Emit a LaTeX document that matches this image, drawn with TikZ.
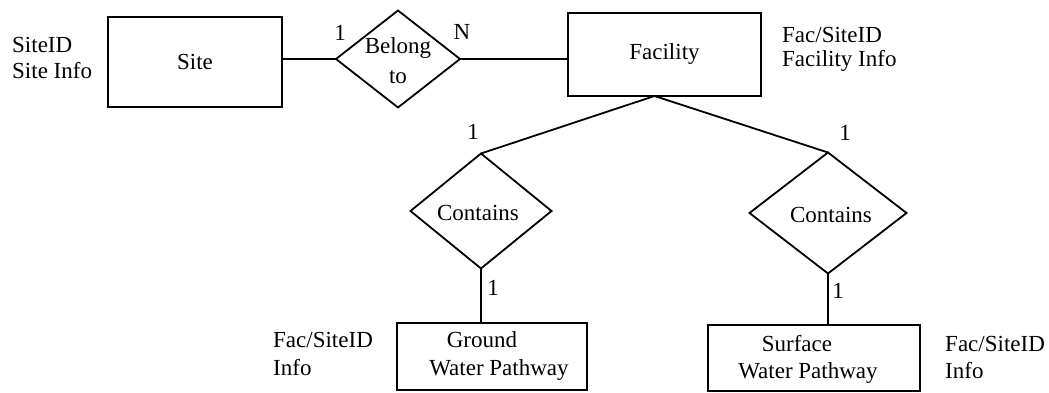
\documentclass[tikz,border=0pt]{standalone}
\usepackage{fontspec}
\setmainfont{Liberation Serif}
\usetikzlibrary{shapes.geometric,calc}
\begin{document}
\begin{tikzpicture}[x=1pt,y=-1pt,
  every node/.style={font=\fontsize{23}{26}\selectfont},
  entity/.style={draw, rectangle, line width=1.8pt, inner sep=0pt, outer sep=0pt},
  relation/.style={draw, diamond, line width=1.8pt, inner sep=0pt, outer sep=0pt},
  conn/.style={line width=1.8pt},
  txt/.style={anchor=base west, inner sep=0pt},
  ctxt/.style={anchor=base, inner sep=0pt},
  card/.style={inner sep=0pt}]
\path[use as bounding box] (0,0) rectangle (1049,393);
% entities and relationships
\node[entity, minimum width=174pt, minimum height=90pt] (site) at (195,62) {Site};
\node[relation, minimum width=124pt, minimum height=97pt] (belong) at (398,59) {};
\node[entity, minimum width=193pt, minimum height=83pt] (facility) at (664.5,54.5) {Facility};
\node[relation, minimum width=141pt, minimum height=115pt] (c1) at (481,211) {};
\node[relation, minimum width=157pt, minimum height=121pt] (c2) at (828,213) {};
\node[entity, minimum width=190pt, minimum height=67pt] (ground) at (492,356.5) {};
\node[entity, minimum width=212pt, minimum height=66pt] (surface) at (814,358) {};
% texts inside shapes
\node[align=center, inner sep=0pt, font=\fontsize{23}{30}\selectfont] (belongtxt) at ([yshift=-2pt]belong.center) {Belong\\to};
\node[inner sep=0pt] (c1txt) at ([xshift=-3pt,yshift=-2pt]c1.center) {Contains};
\node[inner sep=0pt] (c2txt) at ([xshift=3pt,yshift=-2pt]c2.center) {Contains};
\node[ctxt] (g1) at (482,347) {Ground};
\node[ctxt] (g2) at (499,375) {Water Pathway};
\node[ctxt] (s1) at (797,351) {Surface};
\node[ctxt] (s2) at (808,378) {Water Pathway};
% connectors
\draw[conn] (belong.west -| site.east) -- (belong.west);
\draw[conn] (belong.east) -- (belong.east -| facility.west);
\coordinate (fb) at ($(facility.south)+(-10,0)$);
\draw[conn] (fb) -- (c1.north);
\draw[conn] (fb) -- (c2.north);
\draw[conn] (c1.south) -- (c1.south |- ground.north);
\draw[conn] (c2.south) -- (c2.south |- surface.north);
% cardinalities
\node[card] (k1) at (340,33) {1};
\node[card] (kn) at (462,32) {N};
\node[card] (k2) at (473,132) {1};
\node[card] (k3) at (845,133) {1};
\node[card] (k4) at (493,288) {1};
\node[card] (k5) at (838,291) {1};
% attributes
\node[txt] (at1) at (12,53) {SiteID};
\node[txt] (at2) at (12,79) {Site Info};
\node[txt] (at3) at (782,43) {Fac/SiteID};
\node[txt] (at4) at (782,67) {Facility Info};
\node[txt] (at5) at (273,347) {Fac/SiteID};
\node[txt] (at6) at (273,375) {Info};
\node[txt] (at7) at (945,351) {Fac/SiteID};
\node[txt] (at8) at (945,378) {Info};
\end{tikzpicture}
\end{document}
